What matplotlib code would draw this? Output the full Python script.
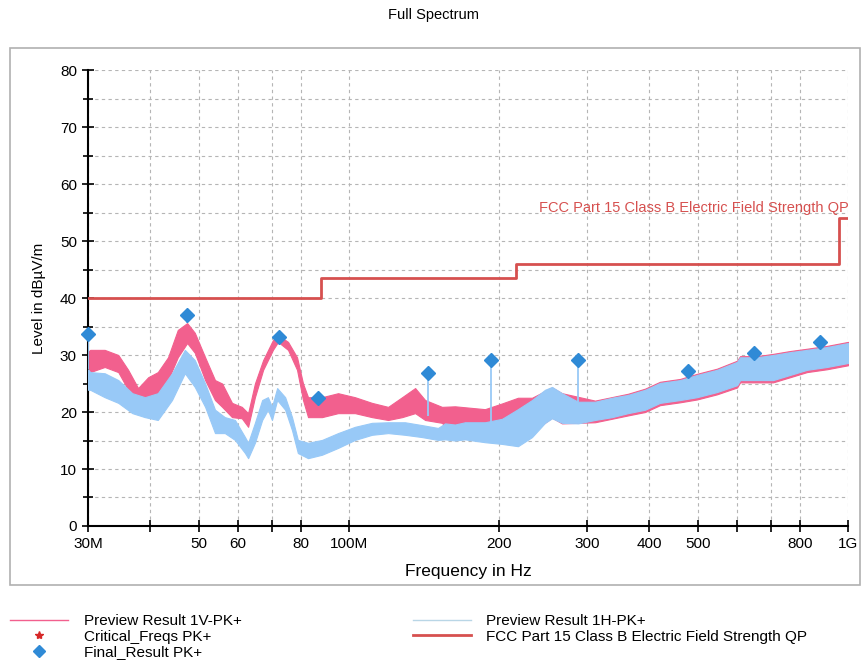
import matplotlib.pyplot as plt
from matplotlib.lines import Line2D
from matplotlib.patches import Rectangle
from matplotlib.ticker import NullLocator

plt.rcParams['font.family'] = ['Liberation Sans', 'DejaVu Sans']

# Preview scan 1V (vertical polarisation), peak detector: band envelope in dBuV/m
v_freq = [30.0, 30.3, 32.4, 34.5, 36.1, 37.8, 39.6, 41.4, 43.4, 45.4, 47.4, 49.1,
          51.5, 53.9, 55.7, 58.3, 61.0, 62.8, 64.8, 67.3, 70.4, 72.1, 75.5, 78.7,
          80.9, 82.8, 88.3, 95.1, 102.8, 111.2, 119.8, 127.8, 135.7, 142.1, 153.6,
          163.1, 187.3, 202.6, 218.1, 232.7, 255.2, 267.2, 311.2, 362.4, 392.1,
          420.0, 460.8, 498.3, 546.3, 599.4, 607.8, 657.0, 707.7, 765.3, 827.4,
          907.5, 1000.0]
v_high = [30.5, 30.9, 30.9, 30.0, 27.4, 24.2, 26.1, 27.0, 29.6, 34.4, 35.6, 33.9,
          29.6, 25.6, 25.0, 21.6, 20.9, 19.8, 25.0, 29.1, 32.6, 33.5, 32.3, 29.6,
          25.0, 22.6, 22.6, 23.3, 22.6, 21.6, 20.9, 22.6, 24.2, 22.1, 20.9,
          21.0, 20.5, 21.5, 22.5, 22.5, 24.3, 23.3, 22.0, 23.2, 24.1,
          25.3, 25.8, 26.7, 27.6, 29.0, 29.8, 29.8, 30.2, 30.7, 31.1,
          31.6, 32.3]
v_low = [27.0, 27.0, 27.9, 27.0, 23.9, 21.2, 22.1, 23.3, 25.6, 29.6, 32.1, 30.4,
         25.6, 22.1, 20.9, 19.1, 18.9, 17.4, 22.6, 27.4, 30.9, 32.3, 30.9, 27.4,
         22.1, 19.1, 19.1, 19.8, 19.8, 19.1, 18.6, 19.1, 19.8, 18.6, 18.1,
         15.5, 15.0, 15.0, 15.0, 16.5, 19.0, 18.0, 18.2, 19.4, 20.0,
         21.2, 21.7, 22.2, 23.1, 24.3, 25.2, 25.2, 25.2, 26.1, 27.0,
         27.5, 28.2]

# Preview scan 1H (horizontal polarisation), peak detector
h_freq = [30.0, 30.3, 32.4, 34.5, 36.8, 39.0, 41.4, 44.2, 46.9, 49.1, 51.5, 53.9,
          56.4, 59.1, 61.9, 62.8, 64.8, 67.0, 68.8, 70.1, 71.8, 74.5, 76.9, 79.0,
          82.8, 88.3, 95.1, 102.8, 111.2, 119.8, 129.5, 140.1, 150.8, 155.8,
          163.1, 170.8, 187.3, 202.6, 218.1, 232.7, 247.1, 255.2, 267.2, 287.8,
          311.2, 336.6, 362.4, 392.1, 420.0, 460.8, 498.3, 546.3, 599.4, 607.8,
          657.0, 707.7, 765.3, 827.4, 907.5, 1000.0]
h_high = [27.5, 27.0, 26.8, 25.6, 23.3, 22.6, 23.3, 26.8, 30.9, 29.1, 25.0, 20.4,
          19.1, 18.6, 15.6, 14.6, 18.1, 22.1, 22.6, 20.9, 24.2, 22.6, 19.1, 15.1,
          14.6, 15.1, 16.3, 17.4, 18.1, 18.2, 18.2, 17.7, 17.2, 18.0,
          17.8, 18.2, 18.2, 18.8, 20.5, 22.1, 23.9, 24.4, 23.3, 21.8,
          21.8, 22.5, 23.0, 23.9, 25.1, 25.6, 26.5, 27.4, 28.8, 29.6,
          29.6, 30.0, 30.5, 30.9, 31.4, 32.1]
h_low = [23.9, 23.9, 22.6, 21.6, 19.8, 19.1, 18.6, 22.1, 26.8, 24.4, 20.9, 16.3,
         16.3, 15.1, 12.8, 11.9, 14.6, 18.6, 20.4, 18.6, 22.1, 20.4, 16.8, 12.8,
         11.9, 12.5, 13.7, 15.1, 16.0, 16.3, 16.0, 15.6, 15.1, 15.2,
         15.0, 15.2, 14.7, 14.4, 14.0, 15.6, 18.1, 18.9, 18.1, 18.0,
         18.6, 19.1, 19.8, 20.4, 21.6, 22.1, 22.6, 23.5, 24.7, 25.6,
         25.6, 25.6, 26.5, 27.4, 27.9, 28.6]

# Final peak measurements and the trace level under each of them
final_freqs = [30.0, 47.4, 72.4, 86.7, 144.3, 192.4, 287.4, 477.0, 648.0, 880.0]
final_levels = [33.6, 37.1, 33.1, 22.4, 26.9, 29.2, 29.2, 27.2, 30.3, 32.2]
stem_floor = [27.5, 35.6, 33.1, 22.4, 19.3, 18.0, 21.8, 26.5, 29.6, 31.2]

# FCC Part 15 Class B radiated limit (QP), steps at 88, 216 and 960 MHz
limit_freqs = [30, 88, 216, 960, 1000]
limit_levels = [40, 43.5, 46, 54, 54]

x_ticks = [30, 40, 50, 60, 70, 80, 100, 200, 300, 400, 500, 600, 700, 800, 1000]
x_ticklabels = ['30M', '', '50', '60', '', '80', '100M', '200', '300', '400',
                '500', '', '', '800', '1G']

v_color = '#f2608e'
h_color = '#98c9f7'
limit_color = '#d6504f'
final_color = '#2f8ad6'

fig = plt.figure(figsize=(8.67, 6.67), dpi=100)
ax = fig.add_axes([0.1015, 0.2114, 0.8766, 0.6836])

# light grey frame round the chart area
fig.patches.append(Rectangle((0.0115, 0.123), 0.9805, 0.805, transform=fig.transFigure,
                             fill=False, edgecolor='#b0b0b0', lw=1.2))

ax.fill_between(v_freq, v_low, v_high, color=v_color, lw=0.8, zorder=2)
ax.fill_between(h_freq, h_low, h_high, color=h_color, lw=0.8, zorder=3)
ax.vlines(final_freqs, stem_floor, final_levels, color=h_color, lw=1.3, zorder=3)
ax.plot(limit_freqs, limit_levels, drawstyle='steps-post', color=limit_color, lw=2, zorder=4)
ax.plot(final_freqs, final_levels, 'D', ms=7.5, color=final_color, zorder=5, clip_on=False)

ax.text(1003, 55.8, 'FCC Part 15 Class B Electric Field Strength QP', color=limit_color,
        fontsize=10.5, ha='right', va='center', clip_on=False)

ax.set_xscale('log')
ax.set_xlim(30, 1000)
ax.set_xticks(x_ticks)
ax.set_xticklabels(x_ticklabels)
ax.xaxis.set_minor_locator(NullLocator())
ax.set_ylim(0, 80)
ax.set_yticks(range(0, 81, 10))
ax.set_yticks(range(5, 80, 10), minor=True)

ax.tick_params(which='major', direction='inout', length=9, width=1.2, labelsize=11, colors='black')
ax.tick_params(which='minor', direction='inout', length=7, width=1.2)
ax.grid(True, which='both', ls=(0, (3, 3)), color='#b5b5b5', lw=0.8)
ax.set_axisbelow(True)
for side in ['top', 'right']:
    ax.spines[side].set_visible(False)
for side in ['left', 'bottom']:
    ax.spines[side].set_linewidth(1.5)

ax.set_xlabel('Frequency in Hz', fontsize=12.5, labelpad=9)
ax.set_ylabel('Level in dB\u00b5V/m', fontsize=11, labelpad=10)
fig.text(0.5, 0.978, 'Full Spectrum', ha='center', va='center', fontsize=10.5)

handles_left = [
    Line2D([], [], color=v_color, lw=1),
    Line2D([], [], color='#d62828', marker='*', ls='none', ms=6),
    Line2D([], [], color=final_color, marker='D', ls='none', ms=6),
]
labels_left = ['Preview Result 1V-PK+', 'Critical_Freqs PK+', 'Final_Result PK+']
handles_right = [
    Line2D([], [], color='#b9d6e6', lw=1),
    Line2D([], [], color=limit_color, lw=2),
]
labels_right = ['Preview Result 1H-PK+', 'FCC Part 15 Class B Electric Field Strength QP']

legend_opts = dict(loc='upper left', frameon=False, fontsize=11, handlelength=3.8,
                   handletextpad=1.0, labelspacing=0.1, borderpad=0, borderaxespad=0)
fig.legend(handles_left, labels_left, bbox_to_anchor=(0.012, 0.079), **legend_opts)
fig.legend(handles_right, labels_right, bbox_to_anchor=(0.476, 0.079), **legend_opts)

fig.savefig('out.png', dpi=100)
